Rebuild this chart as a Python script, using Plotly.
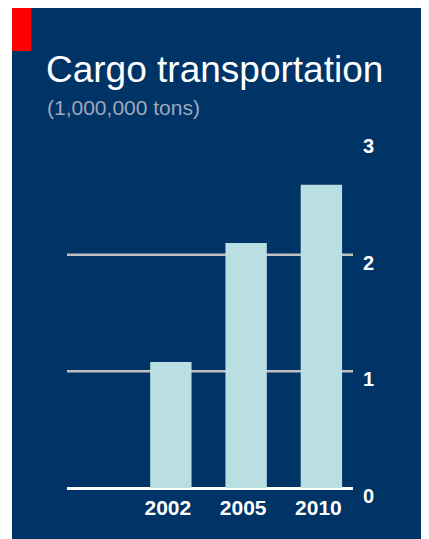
import plotly.graph_objects as go

# ---- data ----
years = ["2002", "2005", "2010"]
cargo = [1.08, 2.10, 2.60]          # million tons
y_ticks = [0, 1, 2, 3]
y_tick_labels = ["0", "1", "2", "3"]
grid_levels = [1, 2]
title_text = "Cargo transportation"
subtitle_text = "(1,000,000 tons)"

# page has an 8px body margin; work in page pixels and convert
OFF = 8
W, H = 429 - OFF, 539 - OFF
L, R, T, B = 67 - OFF, 76, 138 - OFF, 51
plot_h = H - T - B
plot_w = W - L - R

def px_to_paper_x(px):
    return (px - OFF - L) / plot_w

def py_to_paper_y(py):
    return (H - B - (py - OFF)) / plot_h

BG = "#003366"
BAR = "#b9dfe3"
FONT = "Liberation Sans, Arial, sans-serif"

fig = go.Figure()
fig.add_trace(go.Bar(
    x=years, y=cargo, marker=dict(color=BAR, line=dict(width=0)),
    width=0.55, hoverinfo="x+y",
))

shapes = [
    # dark blue panel
    dict(type="rect", xref="paper", yref="paper",
         x0=px_to_paper_x(12), x1=px_to_paper_x(440),
         y0=py_to_paper_y(550), y1=py_to_paper_y(8),
         fillcolor=BG, line=dict(width=0), layer="below"),
    # red marker
    dict(type="rect", xref="paper", yref="paper",
         x0=px_to_paper_x(12), x1=px_to_paper_x(31.5),
         y0=py_to_paper_y(51), y1=py_to_paper_y(8),
         fillcolor="#ff0000", line=dict(width=0), layer="below"),
]
for g in grid_levels:
    shapes.append(dict(type="line", xref="paper", yref="y",
                       x0=0.0, x1=1.0, y0=g, y1=g,
                       line=dict(color="#c0c0c0", width=2.5), layer="below"))

fig.update_layout(
    width=W, height=H,
    margin=dict(l=L, r=R, t=T, b=B, pad=0),
    paper_bgcolor="white",
    plot_bgcolor="rgba(0,0,0,0)",
    showlegend=False,
    shapes=shapes,
    font=dict(family=FONT, color="white"),
    xaxis=dict(
        type="category", range=[-1.38, 2.42],
        showgrid=False, showline=False, zeroline=False, ticks="",
        tickfont=dict(family=FONT, size=21, color="white", weight="bold"),
        ticklabelstandoff=5, ticklabelshift=-3,
        fixedrange=True,
    ),
    yaxis=dict(
        side="right", range=[0, 3],
        tickvals=y_ticks, ticktext=y_tick_labels,
        showgrid=False, showline=False, ticks="",
        zeroline=True, zerolinecolor="white", zerolinewidth=2.5,
        tickfont=dict(family=FONT, size=20, color="white", weight="bold"),
        ticklabelstandoff=9, ticklabelshift=8,
        fixedrange=True,
    ),
    annotations=[
        dict(text=title_text, xref="paper", yref="paper",
             x=px_to_paper_x(44), y=py_to_paper_y(70),
             xanchor="left", yanchor="middle", showarrow=False,
             font=dict(family=FONT, size=37, color="white")),
        dict(text=subtitle_text, xref="paper", yref="paper",
             x=px_to_paper_x(45), y=py_to_paper_y(107),
             xanchor="left", yanchor="middle", showarrow=False,
             font=dict(family=FONT, size=21, color="#9ea9ba")),
    ],
)

fig.write_html("out.html")
